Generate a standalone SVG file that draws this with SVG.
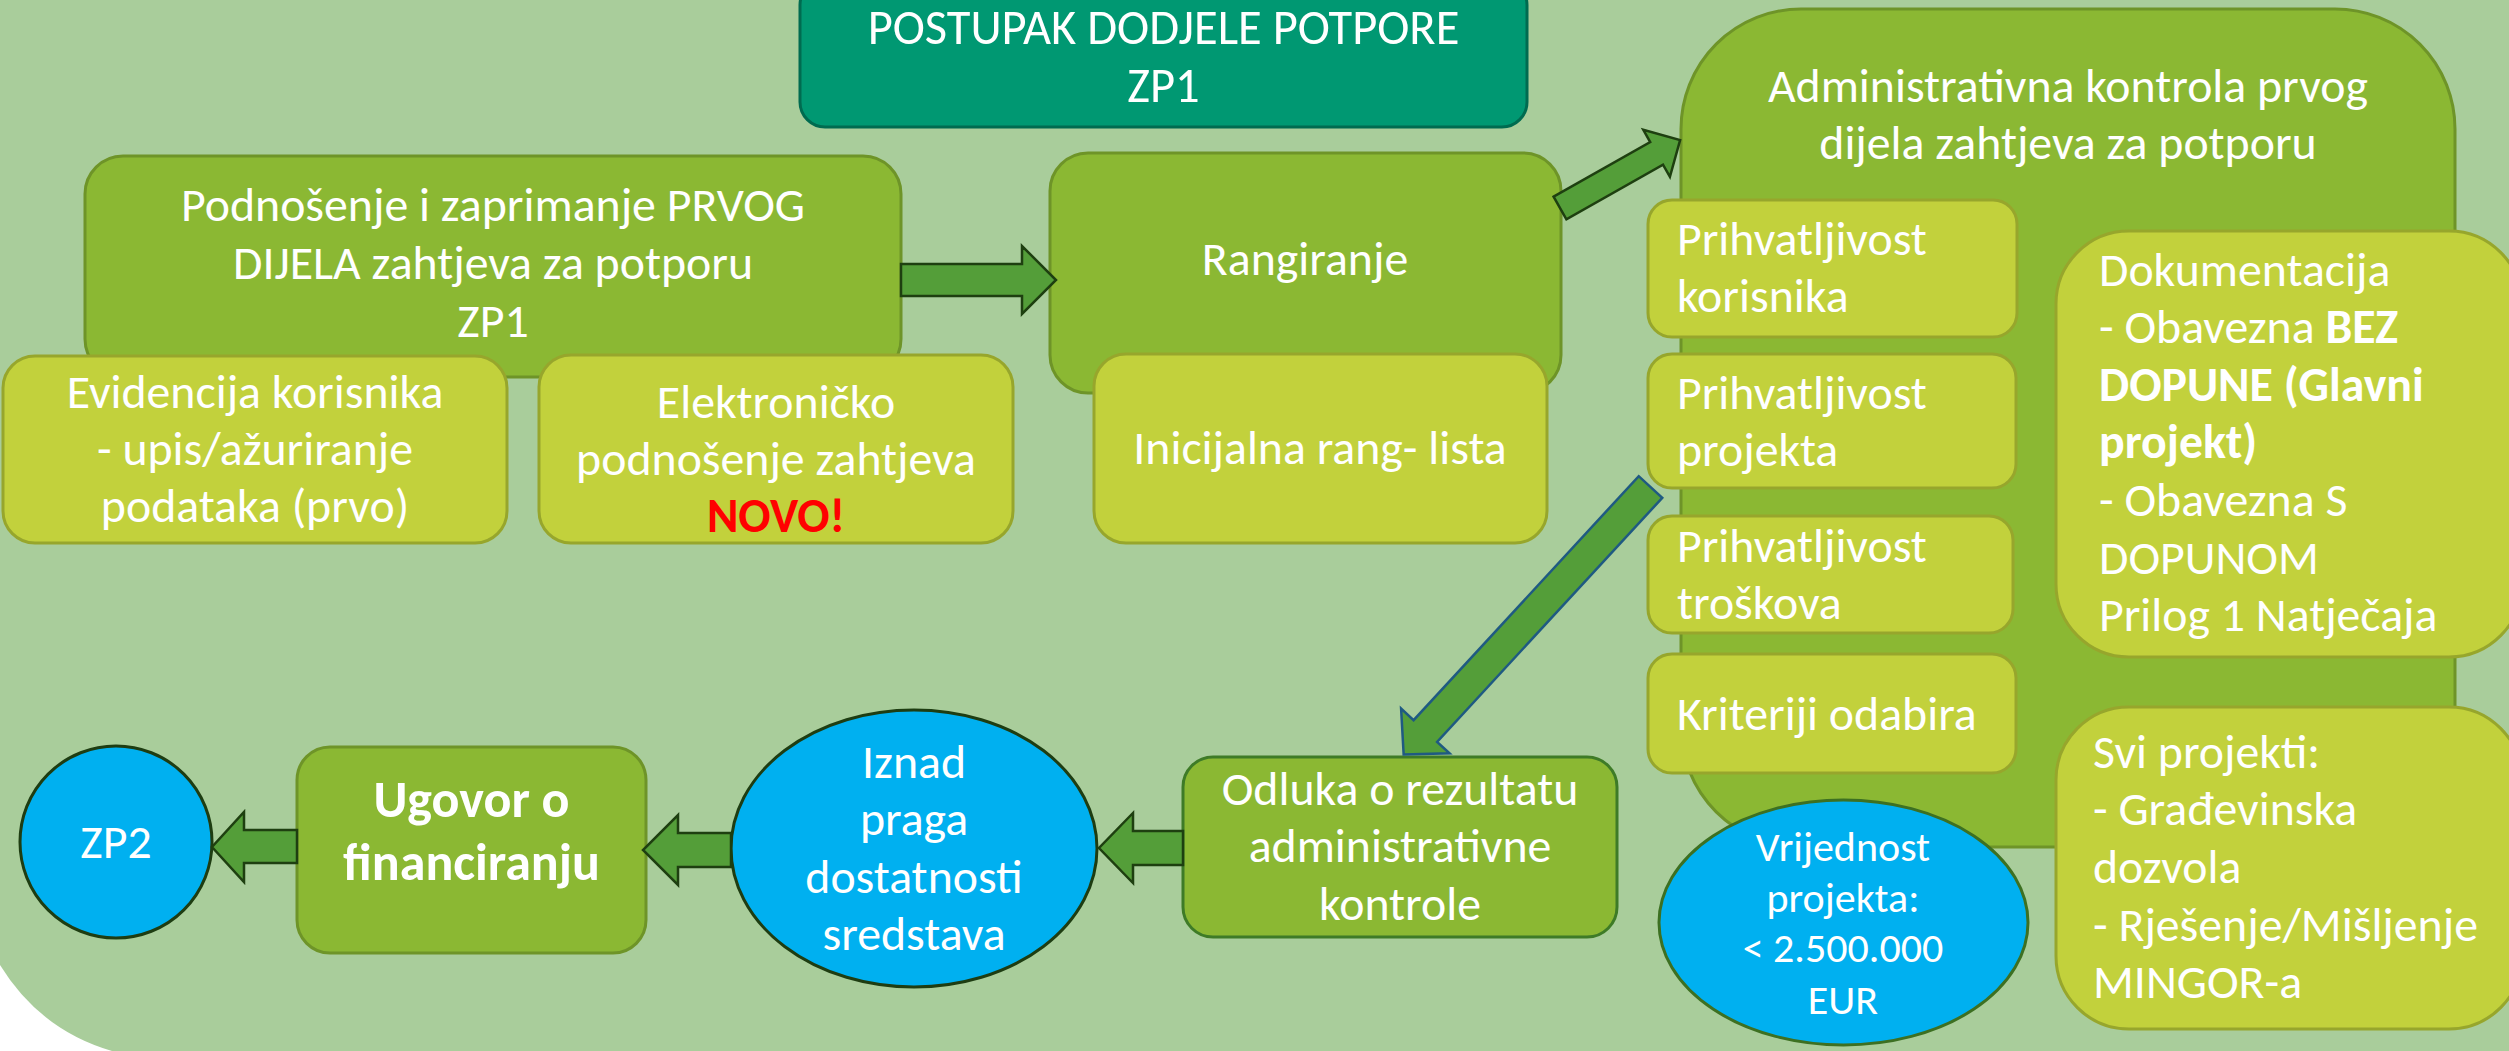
<svg xmlns="http://www.w3.org/2000/svg" width="2509" height="1051" viewBox="0 0 2509 1051">
<defs>
<style>
.t{fill:#fff;font-family:Carlito,Lato,"Liberation Sans",sans-serif;font-size:47.8px}
.m{text-anchor:middle}
.b{font-weight:bold}
.olive{fill:#8BB833;stroke:#6E9428;stroke-width:3}
.lime{fill:#C2D13C;stroke:#97A62C;stroke-width:3}
.blue{fill:#00B0F0;stroke:#1E3D12;stroke-width:3}
.arr{fill:#549E39;stroke:#1E3F10;stroke-width:2.5;stroke-linejoin:miter}
</style>
</defs>
<rect width="2509" height="1051" fill="#fff"/>
<path d="M0,0 H2509 V1051 H112 Q40,1030 0,965 Z" fill="#A9CD9B"/>

<g id="title">
<rect x="800" y="-20" width="727" height="147" rx="25" fill="#009872" stroke="#006B50" stroke-width="3"/>
<text class="t m" x="1163.5" y="44" style="font-size:48.5px">POSTUPAK DODJELE POTPORE</text>
<text class="t m" x="1163.5" y="102" style="font-size:48.5px">ZP1</text>
</g>

<g id="podnosenje">
<rect class="olive" x="85" y="156" width="816" height="221" rx="38"/>
<text class="t m" x="493" y="221">Podnošenje i zaprimanje PRVOG</text>
<text class="t m" x="493" y="279">DIJELA zahtjeva za potporu</text>
<text class="t m" x="493" y="337">ZP1</text>
</g>

<g id="evidencija">
<rect class="lime" x="3" y="356" width="504" height="187" rx="32"/>
<text class="t m" x="255" y="408">Evidencija korisnika</text>
<text class="t m" x="255" y="465">- upis/ažuriranje</text>
<text class="t m" x="255" y="522">podataka (prvo)</text>
</g>

<g id="elektronicko">
<rect class="lime" x="539" y="355" width="474" height="188" rx="32"/>
<text class="t m" x="776" y="418">Elektroničko</text>
<text class="t m" x="776" y="475">podnošenje zahtjeva</text>
<text class="t m b" x="776" y="532" style="fill:#FF0000">NOVO!</text>
</g>

<g id="rangiranje">
<rect class="olive" x="1050" y="153" width="511" height="240" rx="38"/>
<text class="t m" x="1305" y="275">Rangiranje</text>
</g>

<g id="inicijalna">
<rect class="lime" x="1094" y="354" width="453" height="189" rx="32"/>
<text class="t m" x="1320" y="464">Inicijalna rang- lista</text>
</g>

<g id="admin">
<rect class="olive" x="1681" y="9" width="774" height="838" rx="120"/>
<text class="t m" x="2068" y="102">Administrativna kontrola prvog</text>
<text class="t m" x="2068" y="159">dijela zahtjeva za potporu</text>
</g>

<g id="prihv-korisnika">
<rect class="lime" x="1648" y="200" width="369" height="137" rx="24"/>
<text class="t" x="1677" y="255">Prihvatljivost</text>
<text class="t" x="1677" y="312">korisnika</text>
</g>

<g id="prihv-projekta">
<rect class="lime" x="1648" y="354" width="368" height="134" rx="24"/>
<text class="t" x="1677" y="409">Prihvatljivost</text>
<text class="t" x="1677" y="466">projekta</text>
</g>

<g id="prihv-troskova">
<rect class="lime" x="1648" y="516" width="365" height="117" rx="24"/>
<text class="t" x="1677" y="562">Prihvatljivost</text>
<text class="t" x="1677" y="619">troškova</text>
</g>

<g id="kriteriji">
<rect class="lime" x="1648" y="654" width="368" height="119" rx="24"/>
<text class="t" x="1677" y="730">Kriteriji odabira</text>
</g>

<g id="dokumentacija">
<rect class="lime" x="2056" y="231" width="466" height="426" rx="73"/>
<text class="t" x="2099" y="286">Dokumentacija</text>
<text class="t" x="2099" y="343">- Obavezna <tspan class="b">BEZ</tspan></text>
<text class="t b" x="2099" y="401">DOPUNE (Glavni</text>
<text class="t b" x="2099" y="458">projekt)</text>
<text class="t" x="2099" y="516">- Obavezna S</text>
<text class="t" x="2099" y="574">DOPUNOM</text>
<text class="t" x="2099" y="631">Prilog 1 Natječaja</text>
</g>

<g id="svi-projekti">
<rect class="lime" x="2056" y="707" width="466" height="322" rx="73"/>
<text class="t" x="2093" y="768">Svi projekti:</text>
<text class="t" x="2093" y="825">- Građevinska</text>
<text class="t" x="2093" y="883">dozvola</text>
<text class="t" x="2093" y="941">- Rješenje/Mišljenje</text>
<text class="t" x="2093" y="998">MINGOR-a</text>
</g>

<g id="vrijednost">
<ellipse class="blue" cx="1843.5" cy="922.5" rx="184.5" ry="122.5" style="stroke:#3D7022"/>
<text class="t m" x="1843" y="861" style="font-size:42px">Vrijednost</text>
<text class="t m" x="1843" y="912" style="font-size:42px">projekta:</text>
<text class="t m" x="1843" y="962" style="font-size:42px">&lt; 2.500.000</text>
<text class="t m" x="1843" y="1014" style="font-size:42px">EUR</text>
</g>

<g id="odluka">
<rect class="olive" x="1183" y="757" width="434" height="180" rx="30" style="stroke:#3E7B27"/>
<text class="t m" x="1400" y="805">Odluka o rezultatu</text>
<text class="t m" x="1400" y="862">administrativne</text>
<text class="t m" x="1400" y="920">kontrole</text>
</g>

<g id="iznad">
<ellipse class="blue" cx="914" cy="848.5" rx="183" ry="138.5"/>
<text class="t m" x="914" y="778">Iznad</text>
<text class="t m" x="914" y="835">praga</text>
<text class="t m" x="914" y="893">dostatnosti</text>
<text class="t m" x="914" y="950">sredstava</text>
</g>

<g id="ugovor">
<rect class="olive" x="297" y="747" width="349" height="206" rx="33"/>
<text class="t m b" x="471.5" y="817" style="font-size:52px">Ugovor o</text>
<text class="t m b" x="471.5" y="880" style="font-size:52px">financiranju</text>
</g>

<g id="zp2">
<circle class="blue" cx="116" cy="842" r="96"/>
<text class="t m" x="116" y="858">ZP2</text>
</g>

<g id="connectors">
<polygon class="arr" points="901,264 1022,264 1022,246 1056,280 1022,314 1022,296 901,296"/>
<polygon class="arr" transform="translate(1560,208) rotate(-29.5)" points="0,-13 111,-13 111,-27 138,0 111,27 111,13 0,13"/>
<polygon class="arr" style="stroke:#1F5A82" transform="translate(1650.5,487) rotate(132.7)" points="0,-16 332,-16 332,-33 364,0 332,33 332,16 0,16"/>
<polygon class="arr" points="1183,831 1133,831 1133,813 1099,848 1133,883 1133,865 1183,865"/>
<polygon class="arr" points="731,833 678,833 678,815 643,850 678,885 678,867 731,867"/>
<polygon class="arr" points="297,830 244,830 244,812 212,847 244,882 244,863 297,863"/>
</g>
</svg>
